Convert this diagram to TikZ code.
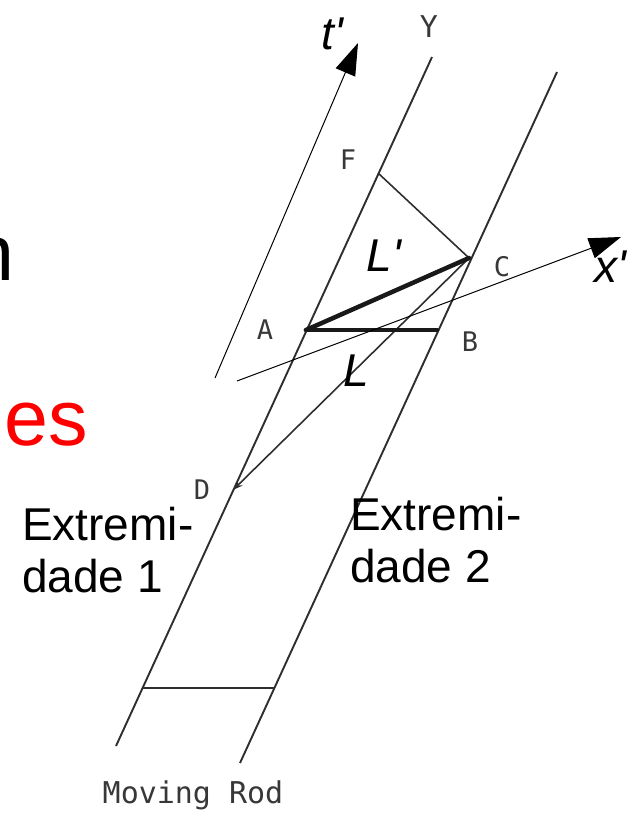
\documentclass[tikz,border=0pt]{standalone}
\usepackage{fontspec}
\setmainfont{Liberation Sans}
\newfontfamily\scanfont{DejaVu Sans Mono}
\usetikzlibrary{arrows.meta}
\begin{document}
\begin{tikzpicture}[x=1pt,y=-1pt,
  world/.style={line width=1.9pt, draw=black!82},
  rodline/.style={line width=1.6pt, draw=black!82},
  axisline/.style={line width=1pt, draw=black, -{Triangle[length=32pt,width=21pt]}},
  thickseg/.style={line width=4.5pt, draw=black!90, line cap=round},
  plotlbl/.style={font=\scanfont\fontsize{27}{30}\selectfont, text=black!78, inner sep=0pt},
  bigtxt/.style={font=\fontsize{46}{52}\selectfont, inner sep=0pt, anchor=base west},
  ital/.style={font=\fontsize{46}{52}\selectfont\itshape, inner sep=0pt},
  slide/.style={font=\fontsize{79}{90}\selectfont, inner sep=0pt, anchor=base east},
]
\useasboundingbox (0,0) rectangle (641,813);

% points
\coordinate (L1t) at (432,57);
\coordinate (L1b) at (116,746);
\coordinate (R1t) at (557,72);
\coordinate (R1b) at (240,763);
\coordinate (F) at (378,173);
\coordinate (C) at (469,258);
\coordinate (A) at (306,330);
\coordinate (B) at (437,330);
\coordinate (D) at (233,490);
\coordinate (E1) at (142,688);
\coordinate (E2) at (274,688);
\coordinate (T0) at (215,378);
\coordinate (T1) at (358,43);
\coordinate (X0) at (237,381);
\coordinate (X1) at (621,237);

% world lines of the rod ends
\draw[world] (L1t) -- (L1b);
\draw[world] (R1t) -- (R1b);
\draw[rodline] (F) -- (C);
\draw[rodline] (E1) -- (E2);
\draw[rodline, -{Stealth[length=10pt,width=7pt]}] (C) -- (D);
\draw[thickseg] (A) -- (B);
\draw[thickseg] (A) -- (C);

% moving axes
\draw[axisline] (T0) -- (T1);
\draw[axisline] (X0) -- (X1);

% plotter labels
\node[plotlbl, font=\scanfont\fontsize{30}{32}\selectfont] (lY) at (429,27) {Y};
\node[plotlbl] (lF) at (348,160) {F};
\node[plotlbl] (lC) at (502,267) {C};
\node[plotlbl] (lA) at (265,330) {A};
\node[plotlbl] (lB) at (470,342) {B};
\node[plotlbl] (lD) at (202,490) {D};
\node[plotlbl, font=\scanfont\fontsize{30}{32}\selectfont] (lrod) at (193,795) {Moving Rod};

% italic labels
\node[ital] (lt) at (332,34) {t\textquotesingle};
\node[ital] (lx) at (610,267) {x\textquotesingle};
\node[ital] (lLp) at (384,256) {L\textquotesingle};
\node[ital] (lL) at (356,371) {L};

% Extremidade labels
\node[bigtxt] (e1a) at (22,540) {Extremi-};
\node[bigtxt] (e1b) at (22,592) {dade 1};
\node[bigtxt] (e2a) at (350,530) {Extremi-};
\node[bigtxt] (e2b) at (350,582) {dade 2};

% cut-off slide text
\node[slide] (sn) at (15,280) {n};
\node[slide, text=red] (sdes) at (88,445) {des};
\end{tikzpicture}
\end{document}
